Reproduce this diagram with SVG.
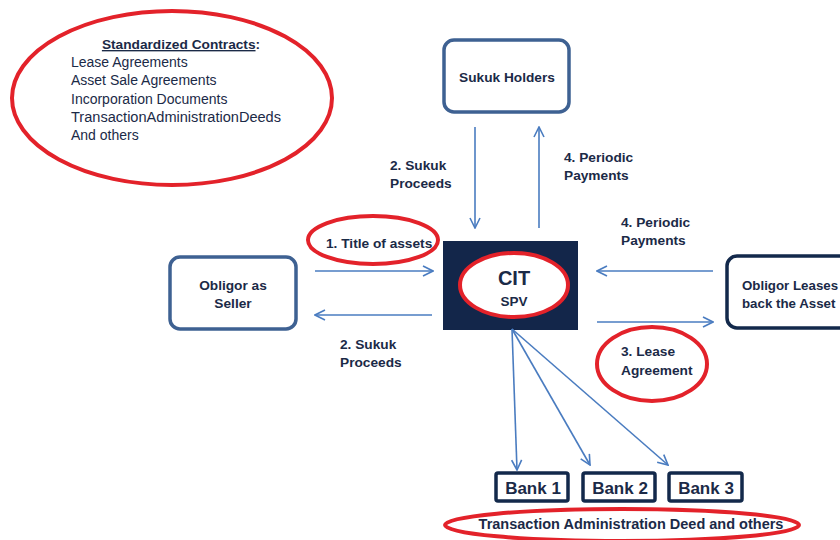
<svg xmlns="http://www.w3.org/2000/svg" width="840" height="540" viewBox="0 0 840 540">
<defs>
<marker id="ah" viewBox="0 0 12 12" refX="11" refY="6" markerWidth="12" markerHeight="12" markerUnits="userSpaceOnUse" orient="auto">
<path d="M1,1 L11,6 L1,11" fill="none" stroke="#4a7cc0" stroke-width="1.6"/>
</marker>
<style>
text{font-family:"Liberation Sans",Arial,sans-serif;fill:#1b2a47}
.b{font-weight:bold;font-size:13.7px}
.r{font-size:14px}
.red{fill:none;stroke:#e3222a;stroke-width:4}
.blue{fill:#fff;stroke:#3e6192;stroke-width:3.5}
.navy{fill:#fff;stroke:#13294b;stroke-width:3.5}
.arr{stroke:#4a7cc0;stroke-width:1.6;fill:none;marker-end:url(#ah)}
.bk{font-weight:bold;font-size:17px}
</style>
</defs>
<rect width="840" height="540" fill="#fff"/>

<g id="contracts">
<ellipse class="red" cx="172" cy="98" rx="160" ry="87"/>
<text class="b" x="181" y="49" text-anchor="middle"><tspan text-decoration="underline">Standardized Contracts</tspan>:</text>
<text class="r" x="71" y="67">Lease Agreements</text>
<text class="r" x="71" y="85">Asset Sale Agreements</text>
<text class="r" x="71" y="104">Incorporation Documents</text>
<text class="r" x="71" y="122" textLength="210" lengthAdjust="spacingAndGlyphs">TransactionAdministrationDeeds</text>
<text class="r" x="71" y="140">And others</text>
</g>

<g id="sukuk-holders">
<rect class="blue" x="444" y="40" width="125" height="72" rx="10"/>
<text class="b" x="507" y="82" text-anchor="middle">Sukuk Holders</text>
</g>

<g id="cit-spv">
<rect x="443" y="241" width="135" height="89" fill="#13264a"/>
<ellipse cx="514" cy="285" rx="54" ry="32" fill="#fff" stroke="#e3222a" stroke-width="4"/>
<text x="514" y="285" text-anchor="middle" font-weight="bold" font-size="20">CIT</text>
<text x="514" y="306" text-anchor="middle" font-weight="bold" font-size="13.5">SPV</text>
</g>

<g id="obligor-seller">
<rect class="blue" x="170" y="257" width="126" height="72" rx="10"/>
<text class="b" x="233" y="290" text-anchor="middle">Obligor as</text>
<text class="b" x="233" y="308" text-anchor="middle">Seller</text>
</g>

<g id="obligor-lessee">
<rect class="navy" x="727" y="256" width="140" height="72" rx="10"/>
<text class="b" x="742" y="290" style="font-size:13.3px">Obligor Leases</text>
<text class="b" x="742" y="308" style="font-size:13.3px">back the Asset</text>
</g>

<g id="bank1">
<rect class="navy" x="496" y="473" width="72" height="28" rx="2"/>
<text class="bk" x="533" y="494" text-anchor="middle">Bank 1</text>
</g>
<g id="bank2">
<rect class="navy" x="583" y="473" width="72" height="28" rx="2"/>
<text class="bk" x="620" y="494" text-anchor="middle">Bank 2</text>
</g>
<g id="bank3">
<rect class="navy" x="669" y="473" width="73" height="28" rx="2"/>
<text class="bk" x="706" y="494" text-anchor="middle">Bank 3</text>
</g>

<g id="tad">
<ellipse class="red" cx="622" cy="525" rx="177" ry="16"/>
<text class="b" x="631" y="529" text-anchor="middle" style="font-size:14.5px">Transaction Administration Deed and others</text>
</g>

<g id="connectors">
<line class="arr" x1="475" y1="127" x2="475" y2="228"/>
<line class="arr" x1="539" y1="228" x2="539" y2="127"/>
<line class="arr" x1="315" y1="271" x2="433" y2="271"/>
<line class="arr" x1="432" y1="315" x2="315" y2="315"/>
<line class="arr" x1="713" y1="271" x2="597" y2="271"/>
<line class="arr" x1="597" y1="322" x2="713" y2="322"/>
<line class="arr" x1="512" y1="329" x2="517" y2="470"/>
<line class="arr" x1="512" y1="329" x2="590" y2="465"/>
<line class="arr" x1="512" y1="329" x2="668" y2="465"/>
</g>

<g id="labels">
<text class="b" x="390" y="170">2. Sukuk</text>
<text class="b" x="390" y="188">Proceeds</text>
<text class="b" x="564" y="162">4. Periodic</text>
<text class="b" x="564" y="180">Payments</text>
<ellipse class="red" cx="373" cy="240" rx="65" ry="24"/>
<text class="b" x="326" y="248">1. Title of assets</text>
<text class="b" x="340" y="349">2. Sukuk</text>
<text class="b" x="340" y="367">Proceeds</text>
<text class="b" x="621" y="227">4. Periodic</text>
<text class="b" x="621" y="245">Payments</text>
<ellipse class="red" cx="652" cy="364" rx="55" ry="37"/>
<text class="b" x="621" y="356">3. Lease</text>
<text class="b" x="621" y="375">Agreement</text>
</g>
</svg>
